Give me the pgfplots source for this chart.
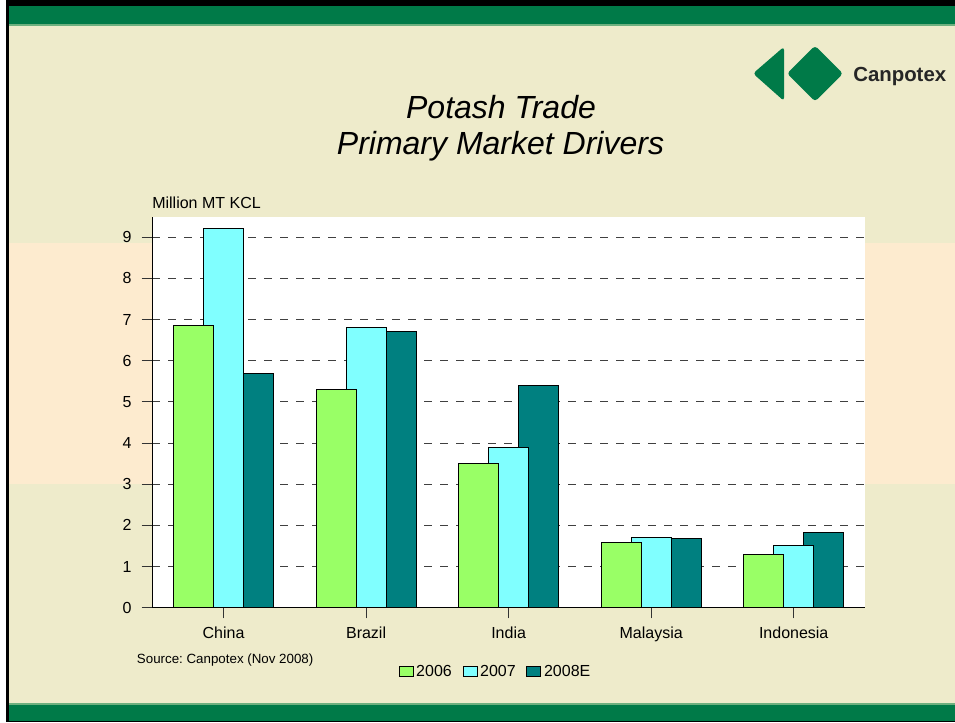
\documentclass[border=0pt]{standalone}
\usepackage{pgfplots}
\pgfplotsset{compat=1.18}
\usepackage{fontspec}
\setmainfont{Liberation Sans}
\frenchspacing
\definecolor{bgbeige}{HTML}{EEEBCB}
\definecolor{bgpeach}{HTML}{FDEBCF}
\definecolor{slidegreen}{HTML}{007A48}
\definecolor{linegreen}{HTML}{6DB07F}
\definecolor{c06}{HTML}{99FF66}
\definecolor{c07}{HTML}{80FFFF}
\definecolor{c08}{HTML}{008080}
\begin{document}
\begin{tikzpicture}[x=0.75pt,y=0.75pt]
% slide background
\fill[white] (0,0) rectangle (955,722);
\fill[bgbeige] (9,0) rectangle (955,722);
\fill[bgpeach] (9,238) rectangle (955,479);
\fill[black] (6,716) rectangle (955,722);
\fill[slidegreen] (9,698) rectangle (955,716);
\fill[linegreen] (9,696) rectangle (955,698);
\fill[linegreen] (9,17) rectangle (955,19);
\fill[slidegreen] (9,1) rectangle (955,17);
\fill[black] (6,0) rectangle (955,1);
\fill[black] (6,0) rectangle (9,722);
% logo
\fill[slidegreen, rounded corners=2.5pt] (753,648.5) -- (784,675.3) -- (784,621) -- cycle;
\fill[slidegreen, rounded corners=2.5pt] (787,648.5) -- (815,676.3) -- (843,648.5) -- (815,620.5) -- cycle;
\node[anchor=base west, inner sep=0pt, text=black!85, font=\fontsize{15.3}{18}\selectfont\bfseries] at (853,640) {Canpotex};
% title
\node[anchor=base, inner sep=0pt, font=\fontsize{24}{28}\selectfont\itshape] at (501,603.7) {Potash Trade};
\node[anchor=base, inner sep=0pt, font=\fontsize{24}{28}\selectfont\itshape] at (500.5,567) {Primary Market Drivers};
% labels
\node[anchor=base west, inner sep=0pt, font=\fontsize{12}{14}\selectfont] at (152,513.7) {Million MT KCL};
\node[anchor=base west, inner sep=0pt, font=\fontsize{10}{12}\selectfont] at (136.7,59) {Source: Canpotex (Nov 2008)};
\begin{axis}[
  at={(114.225pt,85.725pt)}, anchor=south west,
  width=534.5pt, height=293.25pt, scale only axis,
  xmin=-0.5, xmax=4.5, ymin=0, ymax=9.5,
  axis x line*=bottom, axis y line*=left,
  axis line style={-, black, line width=0.75pt},
  axis background/.style={fill=white},
  xtick={0,1,2,3,4}, xticklabels={China,Brazil,India,Malaysia,Indonesia},
  ytick={0,1,2,3,4,5,6,7,8,9},
  tick align=outside, major tick length=8pt,
  tick style={black!80, line width=0.75pt},
  ymajorgrids,
  grid style={black!75, line width=0.75pt, dash pattern=on 6pt off 6pt},
  ybar, bar width=30pt,
  tick label style={font=\fontsize{12}{14}\selectfont},
  yticklabel style={xshift=-4pt},
  xticklabel style={yshift=-3pt},
  /pgf/number format/assume math mode=true,
  reverse legend,
  legend style={at={(0.482,-0.163)}, anchor=center, draw=none, fill=none,
    legend columns=3, font=\fontsize{12}{14}\selectfont,
    /tikz/every even column/.append style={column sep=6pt}},
  legend image code/.code={\draw[#1,draw=black,line width=0.75pt] (0pt,-3.75pt) rectangle (10.5pt,3.75pt);},
]
\addplot[ybar, bar shift=22.5pt, fill=c08, draw=black, line width=0.75pt]
  coordinates {(0,5.70) (1,6.70) (2,5.41) (3,1.67) (4,1.82)};
\addplot[ybar, bar shift=0pt, fill=c07, draw=black, line width=0.75pt]
  coordinates {(0,9.21) (1,6.81) (2,3.89) (3,1.71) (4,1.50)};
\addplot[ybar, bar shift=-22.5pt, fill=c06, draw=black, line width=0.75pt]
  coordinates {(0,6.86) (1,5.30) (2,3.50) (3,1.59) (4,1.30)};
\legend{2008E,2007,2006}
\end{axis}
\end{tikzpicture}
\end{document}
